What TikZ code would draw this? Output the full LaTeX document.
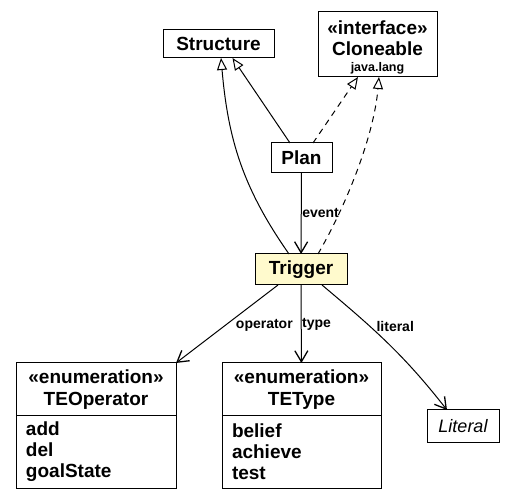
\documentclass[tikz,border=0pt]{standalone}
\usepackage{fontspec}
\setmainfont{Liberation Sans}
\usepackage{tikz}
\usetikzlibrary{arrows.meta}
\usetikzlibrary{positioning}
\definecolor{lemonchiffon}{HTML}{FFFACD}
\tikzstyle{uml}=[every node/.style={rectangle,draw=black,line width=1pt,fill=white,
                text=black,inner sep=0pt,outer sep=0pt,align=center,
                font=\bfseries\fontsize{19}{22}\selectfont}, x=1pt, y=1pt]
\tikzstyle{elabel}=[fill=none,draw=none,text=black,inner sep=1pt,
                font=\bfseries\fontsize{14}{15}\selectfont]
\tikzstyle{vals}=[align=left,text width=140pt,inner xsep=10pt,minimum height=72pt,
                font=\bfseries\fontsize{19}{21}\selectfont]
\tikzstyle{gen}=[-{Triangle[open,length=12pt,width=10pt]},line width=1pt]
\tikzstyle{nav}=[-{Straight Barb[length=11pt,width=13pt,line width=1.3pt]},line width=1pt]

\begin{document}
\begin{tikzpicture}[uml]
\path[use as bounding box] (0,0) rectangle (515,499);
\node[minimum width=111pt,minimum height=28pt] (structure) at (218.5,455) {Structure};
\node[minimum width=119pt,minimum height=65pt,font=\bfseries\fontsize{19}{21}\selectfont]
  (cloneable) at (377.5,454.5)
  {\rule{0pt}{19pt}«interface»\\Cloneable\\[-5pt]{\fontsize{12.5}{14}\selectfont java.lang}};
\node[minimum width=61pt,minimum height=30pt] (plan) at (301.5,341) {Plan};
\node[minimum width=92pt,minimum height=31pt,fill=lemonchiffon] (trigger) at (301,229.5) {Trigger};
\node[minimum width=160pt,minimum height=53pt] (teop) at (96,109.5) {«enumeration»\\TEOperator};
\node[vals,below=0pt of teop] (teopvals) {add\\del\\goalState};
\node[minimum width=159pt,minimum height=53pt] (tetype) at (301.5,109.5) {«enumeration»\\TEType};
\node[vals,text width=139pt,below=0pt of tetype] (tetypevals) {belief\\achieve\\test};
\node[minimum width=72pt,minimum height=32pt,font=\normalfont\itshape\fontsize{18}{22}\selectfont]
  (literal) at (463,73) {Literal};
%generalization / realization
\path[gen]
  ([xshift=-11.5pt]plan.north) edge ([xshift=14pt]structure.south)
  ([xshift=-12pt]trigger.north) edge[out=125,in=-85] ([xshift=2.5pt]structure.south)
  ([xshift=11.5pt]plan.north) edge[dash pattern=on 6pt off 5pt] ([xshift=-19.5pt]cloneable.south)
  ([xshift=17pt]trigger.north) edge[dash pattern=on 6pt off 5pt,out=60,in=-95,looseness=0.8]
    ([xshift=1.5pt]cloneable.south);
%associations
\path[nav]
  (plan) edge node[elabel, right, pos=0.5] {event} (trigger)
  ([xshift=-23pt]trigger.south) edge node[elabel, right=10pt, pos=0.52] {operator} (teop.north east)
  (trigger) edge node[elabel, right, pos=0.5] {type} (tetype)
  ([xshift=21pt]trigger.south) edge[out=-40,in=128] node[elabel, right=5pt, pos=0.35] {literal}
    ([xshift=-16pt]literal.north);
\end{tikzpicture}
\end{document}
